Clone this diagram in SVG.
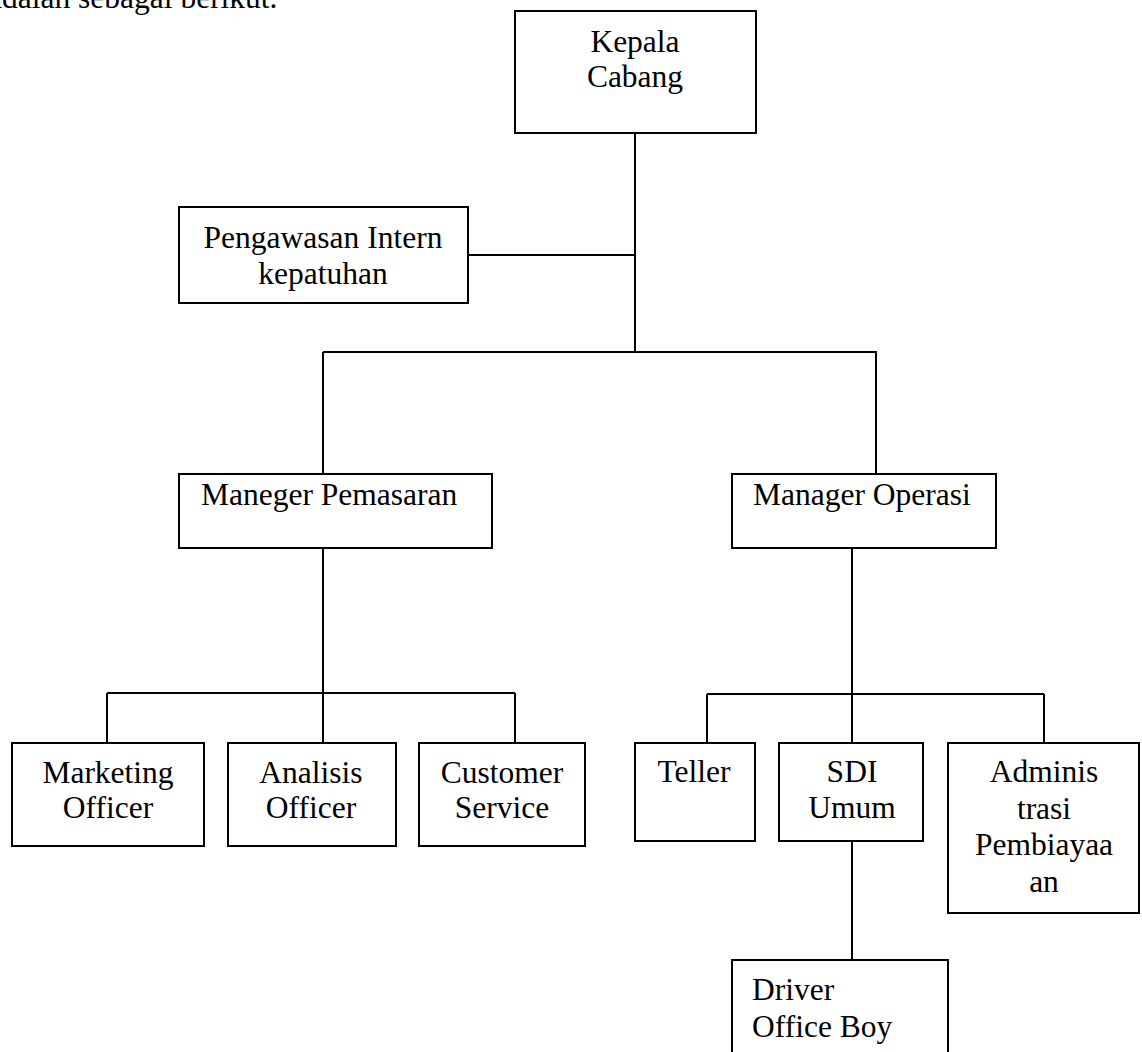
<svg xmlns="http://www.w3.org/2000/svg" width="1142" height="1052" viewBox="0 0 1142 1052">
<style>
.box{fill:#fff;stroke:#000;stroke-width:2}
.ln{stroke:#000;stroke-width:2;fill:none}
text{font-family:"Liberation Serif","Times New Roman",serif;font-size:31.5px;fill:#000}
.c{text-anchor:middle}
</style>
<rect width="1142" height="1052" fill="#fff"/>
<text x="-12" y="7.5">adalah sebagai berikut.</text>
<g id="connectors">
<path class="ln" d="M635 133V352M468 255H635M323 352H877M323 352V474M876 352V474"/>
<path class="ln" d="M323 548V743M107 693H515M107 693V743M515 693V743"/>
<path class="ln" d="M852 548V743M707 694H1044M707 694V743M1044 694V743M852 841V960"/>
</g>
<g id="kepala"><rect class="box" x="515" y="11" width="241" height="122"/><text class="c" x="635" y="52">Kepala</text><text class="c" x="635" y="87">Cabang</text></g>
<g id="pengawasan"><rect class="box" x="179" y="207" width="289" height="96"/><text class="c" x="323" y="248">Pengawasan Intern</text><text class="c" x="323" y="284">kepatuhan</text></g>
<g id="pemasaran"><rect class="box" x="179" y="474" width="313" height="74"/><text x="201" y="505">Maneger Pemasaran</text></g>
<g id="operasi"><rect class="box" x="732" y="474" width="264" height="74"/><text x="753" y="505">Manager Operasi</text></g>
<g id="marketing"><rect class="box" x="12" y="743" width="192" height="103"/><text class="c" x="108" y="783">Marketing</text><text class="c" x="108" y="818">Officer</text></g>
<g id="analisis"><rect class="box" x="228" y="743" width="168" height="103"/><text class="c" x="311" y="783">Analisis</text><text class="c" x="311" y="818">Officer</text></g>
<g id="customer"><rect class="box" x="419" y="743" width="166" height="103"/><text class="c" x="502" y="783">Customer</text><text class="c" x="502" y="818">Service</text></g>
<g id="teller"><rect class="box" x="635" y="743" width="120" height="98"/><text class="c" x="694" y="782">Teller</text></g>
<g id="sdi"><rect class="box" x="779" y="743" width="144" height="98"/><text class="c" x="852" y="782">SDI</text><text class="c" x="852" y="818">Umum</text></g>
<g id="admin"><rect class="box" x="948" y="743" width="191" height="170"/><text class="c" x="1044" y="782">Adminis</text><text class="c" x="1044" y="818.5">trasi</text><text class="c" x="1044" y="855">Pembiayaa</text><text class="c" x="1044" y="891.5">an</text></g>
<g id="driver"><rect class="box" x="732" y="960" width="216" height="110"/><text x="752" y="1000">Driver</text><text x="752" y="1037">Office Boy</text></g>
</svg>
